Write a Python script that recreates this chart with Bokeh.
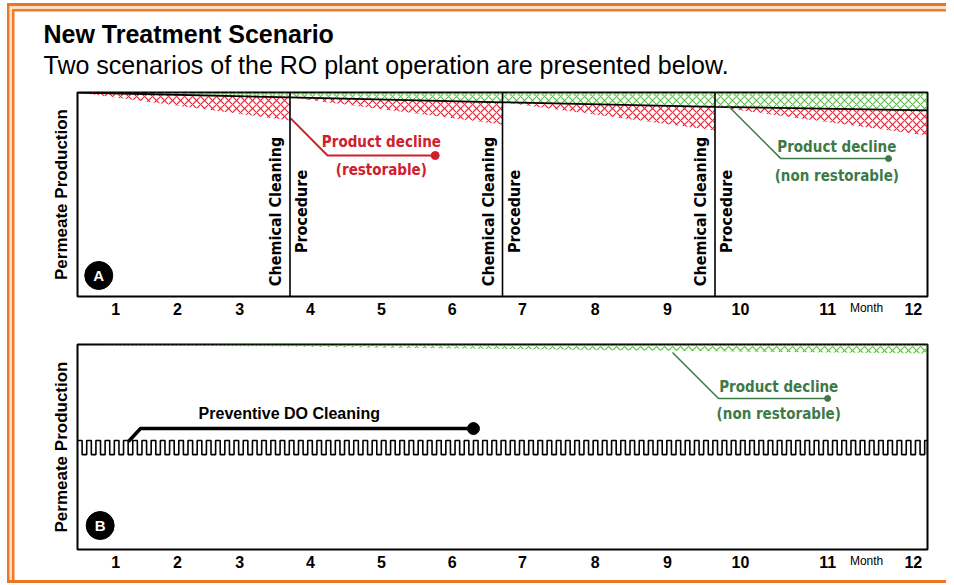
import numpy as np
from bokeh.plotting import figure
from bokeh.models import FixedTicker, Label, Title, Span, Range1d, LinearAxis
from bokeh.layouts import column
from bokeh.embed import file_html
from bokeh.resources import INLINE

# ---------------- data ----------------
month_labels = ["1", "2", "3", "4", "5", "6", "7", "8", "9", "10", "11", "12"]
month_label_pos = [0.54, 1.41, 2.29, 3.29, 4.29, 5.29, 6.28, 7.31, 8.33, 9.36, 10.59, 11.80]
month_word_pos = 11.14

# Scenario A: chemical cleaning every 3 months
cleaning_months_A = [3, 6, 9]
cycle_start_A = [0, 3, 6, 9]
cycle_end_A = [3, 6, 9, 12]
baseline_months_A = [0, 3, 6, 9, 12]
baseline_A = [100, 97.6, 95.2, 93.0, 91.2]          # non-restorable level
restorable_end_A = [86.3, 84.3, 81.4, 78.9]          # production just before each cleaning

# Scenario B: preventive DO cleaning
baseline_months_B = [0, 12]
baseline_B = [100, 95.6]
do_cycle_months = 0.13
do_high = 53.2
do_low = 46.3

# callouts (month, production)
red_callout_x = [3.01, 3.53, 5.05]
red_callout_y = [87.3, 69.1, 69.1]
greenA_callout_x = [9.18, 9.93, 11.45]
greenA_callout_y = [93.6, 67.6, 67.6]
greenB_callout_x = [8.40, 9.05, 10.59]
greenB_callout_y = [96.1, 73.7, 73.7]
do_callout_x = [0.72, 0.89, 5.59]
do_callout_y = [52.7, 59.0, 59.0]

# ---------------- styles ----------------
RED = "#d0202c"
RED_HATCH = "#e5283a"
GREEN_HATCH = "#5cbf46"
GREEN_TXT = "#3d7a48"
ORANGE = "#ec7422"
NARROW = "Liberation Sans Narrow, DejaVu Sans Condensed, sans-serif"
SANS = "Liberation Sans, Arial, sans-serif"


def base_fig(frame_h, top, bottom):
    p = figure(frame_width=850, frame_height=frame_h, x_range=Range1d(0, 12),
               y_range=Range1d(0, 100), output_backend="svg", toolbar_location=None,
               min_border_left=77, min_border_right=19, min_border_top=top,
               min_border_bottom=bottom)
    p.grid.visible = False
    p.outline_line_color = "black"
    p.outline_line_width = 2
    p.background_fill_color = "white"
    p.border_fill_color = None
    xa = p.xaxis[0]
    xa.ticker = FixedTicker(ticks=month_label_pos)
    xa.major_label_overrides = {pos: lab for pos, lab in zip(month_label_pos, month_labels)}
    xa.major_tick_out = 0
    xa.major_tick_in = 0
    xa.minor_tick_out = 0
    xa.minor_tick_in = 0
    xa.axis_line_color = None
    xa.major_label_standoff = 6
    xa.major_label_text_font = SANS
    xa.major_label_text_font_style = "bold"
    xa.major_label_text_font_size = "16px"
    xa.major_label_text_color = "black"
    # small "Month" word sitting in the tick-label row
    mw = LinearAxis(ticker=FixedTicker(ticks=[month_word_pos]),
                    major_label_overrides={month_word_pos: "Month"},
                    major_tick_out=0, major_tick_in=0, minor_tick_out=0, minor_tick_in=0,
                    axis_line_color=None, major_label_standoff=-17,
                    major_label_text_font=SANS, major_label_text_font_size="12px",
                    major_label_text_color="black")
    p.add_layout(mw, "below")
    ya = p.yaxis[0]
    ya.ticker = FixedTicker(ticks=[])
    ya.major_tick_out = 0
    ya.minor_tick_out = 0
    ya.axis_line_color = None
    ya.axis_label = "Permeate Production"
    ya.axis_label_text_font = SANS
    ya.axis_label_text_font_style = "bold"
    ya.axis_label_text_font_size = "17px"
    ya.axis_label_text_color = "black"
    ya.axis_label_standoff = 7
    return p


def callout_text(p, x, y, txt, color, size="15px"):
    p.add_layout(Label(x=x, y=y, text=txt, text_align="center", text_baseline="middle",
                       text_font=NARROW, text_font_style="bold", text_font_size=size,
                       text_color=color))


def badge(p, x, y, letter):
    p.scatter([x], [y], size=28, color="black")
    p.add_layout(Label(x=x, y=y, text=letter, text_align="center", text_baseline="middle",
                       text_font=SANS, text_font_style="bold", text_font_size="15px",
                       text_color="white"))


# ---------------- Panel A ----------------
pA = base_fig(204, 92, 26)
spacer = Title(text=" ", text_font_size="1px", standoff=10)
sub = Title(text="Two scenarios of the RO plant operation are presented below.",
            text_font=SANS, text_font_style="normal", text_font_size="25px",
            align="left", offset=-34, standoff=1, text_color="black")
main = Title(text="New Treatment Scenario", text_font=SANS, text_font_style="bold",
             text_font_size="25px", align="left", offset=-34, standoff=2, text_color="black")
pA.add_layout(spacer, "above")
pA.add_layout(sub, "above")
pA.add_layout(main, "above")

# non-restorable decline (green)
pA.varea(x=baseline_months_A, y1=[100] * len(baseline_months_A), y2=baseline_A,
         fill_color=None, hatch_pattern="x", hatch_color=GREEN_HATCH, hatch_scale=8,
         hatch_weight=1.2)
# restorable decline per cycle (red)
for s, e, r in zip(cycle_start_A, cycle_end_A, restorable_end_A):
    bs = baseline_A[baseline_months_A.index(s)]
    be = baseline_A[baseline_months_A.index(e)]
    pA.varea(x=[s, e], y1=[bs, be], y2=[bs, r], fill_color=None, hatch_pattern="x",
             hatch_color=RED_HATCH, hatch_scale=8, hatch_weight=1.2)
pA.line(baseline_months_A, baseline_A, color="black", line_width=1.8)

for m in cleaning_months_A:
    pA.add_layout(Span(location=m, dimension="height", line_color="black", line_width=1.6))
    pA.add_layout(Label(x=m, y=41.7, text="Chemical Cleaning", angle=np.pi / 2,
                        text_align="center", text_baseline="bottom", x_offset=-5,
                        text_font=NARROW, text_font_style="bold", text_font_size="16px",
                        text_color="black"))
    pA.add_layout(Label(x=m, y=41.7, text="Procedure", angle=np.pi / 2,
                        text_align="center", text_baseline="top", x_offset=2,
                        text_font=NARROW, text_font_style="bold", text_font_size="16px",
                        text_color="black"))

pA.line(red_callout_x, red_callout_y, color=RED, line_width=2)
pA.scatter([red_callout_x[-1]], [red_callout_y[-1]], size=8, color=RED)
callout_text(pA, 4.29, 75.5, "Product decline", RED)
callout_text(pA, 4.29, 61.8, "(restorable)", RED)

pA.line(greenA_callout_x, greenA_callout_y, color=GREEN_TXT, line_width=1.5)
pA.scatter([greenA_callout_x[-1]], [greenA_callout_y[-1]], size=6, color=GREEN_TXT)
callout_text(pA, 10.72, 73.5, "Product decline", GREEN_TXT)
callout_text(pA, 10.72, 59.3, "(non restorable)", GREEN_TXT)

badge(pA, 0.30, 10.3, "A")

# ---------------- Panel B ----------------
pB = base_fig(205, 22, 34)

pB.varea(x=baseline_months_B, y1=[100] * len(baseline_months_B), y2=baseline_B,
         fill_color=None, hatch_pattern="x", hatch_color=GREEN_HATCH, hatch_scale=8,
         hatch_weight=1.2)

half = do_cycle_months / 2
n_half = int(round(12 / half))
wave_x = [min(i * half, 12) for i in range(n_half + 1)] + [12]
wave_y = [do_high if i % 2 == 0 else do_low for i in range(n_half + 1)]
wave_y = wave_y + [wave_y[-1]]
pB.step(wave_x, wave_y, mode="after", color="black", line_width=1.6)

pB.line(do_callout_x, do_callout_y, color="black", line_width=3.5)
pB.scatter([do_callout_x[-1]], [do_callout_y[-1]], size=12, color="black")
pB.add_layout(Label(x=2.99, y=66.1, text="Preventive DO Cleaning", text_align="center",
                    text_baseline="middle", text_font=SANS, text_font_style="bold",
                    text_font_size="16px", text_color="black"))

pB.line(greenB_callout_x, greenB_callout_y, color=GREEN_TXT, line_width=1.5)
pB.scatter([greenB_callout_x[-1]], [greenB_callout_y[-1]], size=6, color=GREEN_TXT)
callout_text(pB, 9.90, 79.5, "Product decline", GREEN_TXT)
callout_text(pB, 9.90, 66.3, "(non restorable)", GREEN_TXT)

badge(pB, 0.32, 11.7, "B")


def bar(color, pos, size):
    return f"linear-gradient({color},{color}) {pos} / {size} no-repeat"


layout = column(pA, pB, spacing=0, styles={
    "background": ", ".join([
        bar(ORANGE, "7px 580px", "960px 3px"),
        bar(ORANGE, "7px 3px", "2.5px 580px"),
        bar(ORANGE, "7px 3px", "960px 3px"),
        bar("#ef7c26", "12px 9px", "2.5px 571px"),
        bar("#ef7c26", "12px 9px", "960px 2.5px"),
        bar("#fbe0c8", "9.5px 6px", "2.5px 574px"),
        bar("#fbe0c8", "9.5px 6px", "960px 3px"),
        "white",
    ]),
})

open("out.html", "w").write(file_html(layout, INLINE))
